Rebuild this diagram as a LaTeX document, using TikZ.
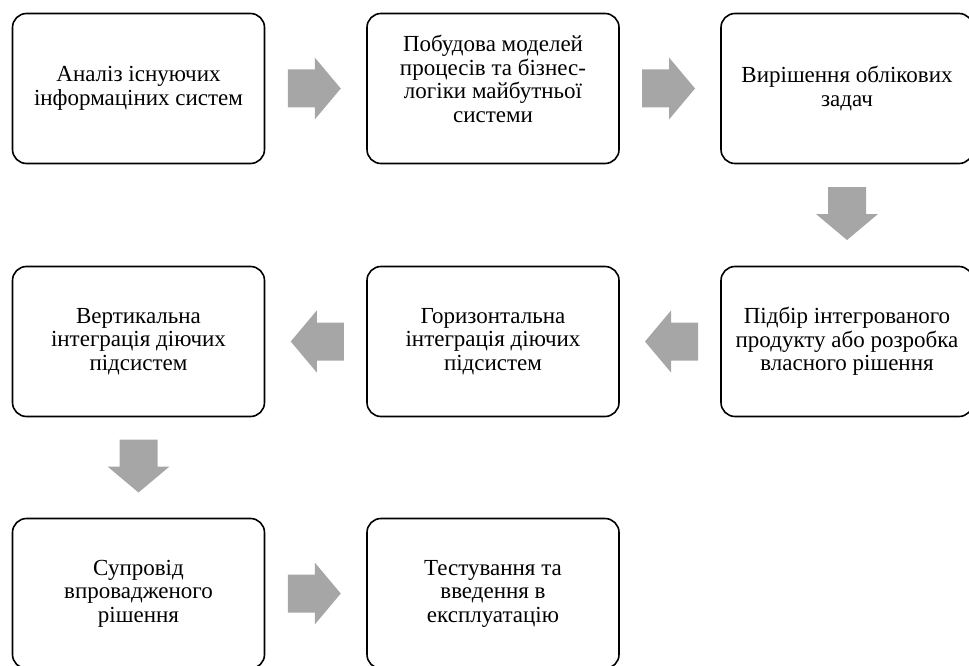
\documentclass[tikz,border=0pt]{standalone}
\usepackage{fontspec}
\setmainfont{Liberation Serif}
\usetikzlibrary{calc}
\definecolor{arrgray}{HTML}{A6A6A6}
\tikzset{
  stepbox/.style={draw=black, line width=1.6pt, rounded corners=14pt,
    minimum width=252pt, minimum height=150pt, align=center, inner sep=2pt,
    font=\fontsize{23}{23.5}\selectfont},
  blockarr/.style={fill=arrgray, draw=none}
}
\newcommand{\arrR}[2]{\fill[blockarr] ($(#1.east)!0.5!(#2.west)$) ++(-28,-19) -- ++(27,0) -- ++(0,-12) -- ++(26,31) -- ++(-26,31) -- ++(0,-12) -- ++(-27,0) -- cycle;}
\newcommand{\arrL}[2]{\fill[blockarr] ($(#1.west)!0.5!(#2.east)$) ++(28,-19) -- ++(-27,0) -- ++(0,-12) -- ++(-26,31) -- ++(26,31) -- ++(0,-12) -- ++(27,0) -- cycle;}
\newcommand{\arrD}[2]{\fill[blockarr] ($(#1.south)!0.5!(#2.north)$) ++(-19,-28) -- ++(0,27) -- ++(-12,0) -- ++(31,26) -- ++(31,-26) -- ++(-12,0) -- ++(0,-27) -- cycle;}
\begin{document}
\begin{tikzpicture}[x=1pt,y=-1pt]
\useasboundingbox (0,0) rectangle (969,666);
\clip (0,0) rectangle (969,666);
\node[stepbox] (a) at (138.5,88.5) {Аналіз існуючих\\інформаціних систем};
\node[stepbox, text depth=19pt] (b) at (493,88.5) {Побудова моделей\\процесів та бізнес-\\логіки майбутньої\\системи};
\node[stepbox] (c) at (847,88.5) {Вирішення облікових\\задач};
\node[stepbox] (d) at (847,341.5) {Підбір інтегрованого\\продукту або розробка\\власного рішення};
\node[stepbox] (e) at (493,341.5) {Горизонтальна\\інтеграція діючих\\підсистем};
\node[stepbox] (f) at (138.5,341.5) {Вертикальна\\інтеграція діючих\\підсистем};
\node[stepbox] (g) at (138.5,593.5) {Супровід\\впровадженого\\рішення};
\node[stepbox] (h) at (493,593.5) {Тестування та\\введення в\\експлуатацію};
\arrR{a}{b}
\arrR{b}{c}
\arrD{c}{d}
\arrL{d}{e}
\arrL{e}{f}
\arrD{f}{g}
\arrR{g}{h}
\end{tikzpicture}
\end{document}
